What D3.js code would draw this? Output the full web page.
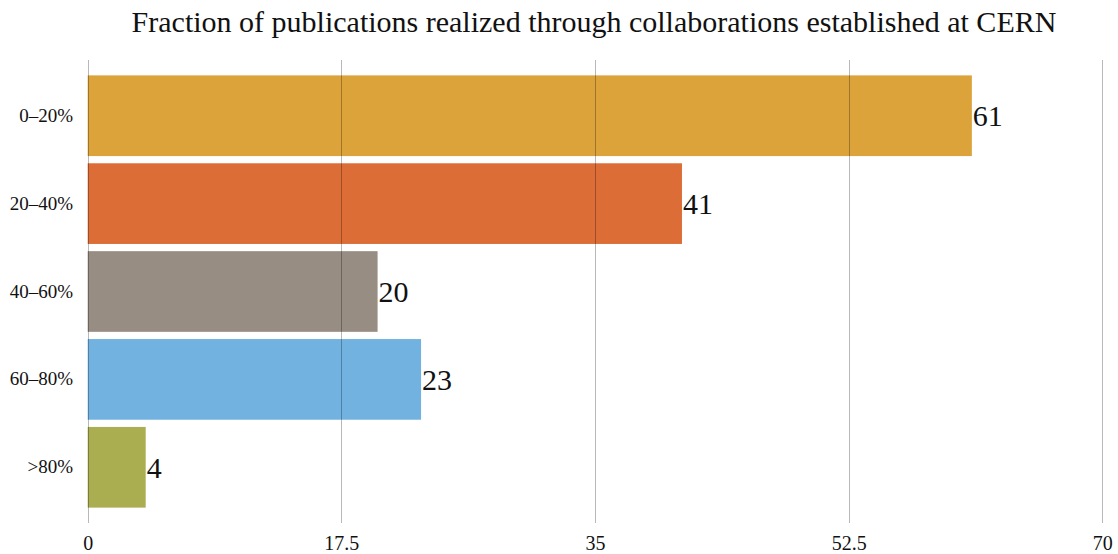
<!DOCTYPE html>
<html><head><meta charset="utf-8">
<script src="https://cdn.jsdelivr.net/npm/d3@7"></script>
<style>body{margin:0;background:#fff}svg{display:block}text{font-family:"Liberation Serif","Times New Roman",serif}</style>
</head><body><svg id="c" width="1118" height="554"></svg>
<script>
const categories = ["0–20%", "20–40%", "40–60%", "60–80%", ">80%"];
const values = [61, 41, 20, 23, 4];
const colors = ["#DBA33A", "#DC6D37", "#978D82", "#72B2E0", "#AAAD50"];
const tickValues = [0, 17.5, 35, 52.5, 70];
const title = "Fraction of publications realized through collaborations established at CERN";

const svg = d3.select("#c");
const m = {left: 88, right: 15, top: 60, bottom: 31};
const W = 1118, H = 554;
const x = d3.scaleLinear().domain([0, 70]).range([m.left - 0.3, W - m.right - 0.7]);
const y = d3.scaleBand().domain(categories).range([m.top, H - m.bottom]).paddingInner(0.082).paddingOuter(0.175);

svg.append("text").attr("x", 594).attr("y", 32).attr("text-anchor", "middle")
  .attr("font-size", 30).attr("fill", "#111").text(title);

svg.append("g").selectAll("rect").data(values).join("rect")
  .attr("x", x(0)).attr("y", (d, i) => y(categories[i]))
  .attr("width", d => x(d) - x(0)).attr("height", y.bandwidth())
  .attr("fill", (d, i) => colors[i]);

const grid = svg.append("g");
grid.selectAll("line").data(tickValues).join("line")
  .attr("x1", d => Math.round(x(d)) + 0.5).attr("x2", d => Math.round(x(d)) + 0.5)
  .attr("y1", m.top).attr("y2", H - m.bottom)
  .attr("stroke", "#000").attr("stroke-opacity", 0.28).attr("stroke-width", 1);

const xAxis = d3.axisBottom(x).tickValues(tickValues).tickSize(0).tickFormat(d => String(d));
const gx = svg.append("g").attr("transform", `translate(0,${H - m.bottom})`).call(xAxis);
gx.select(".domain").remove();
gx.selectAll("text").attr("font-family", '"Liberation Serif", serif').attr("font-size", 20).attr("fill", "#111").attr("dy", null).attr("y", 27);

const yAxis = d3.axisLeft(y).tickSize(0).tickPadding(15);
const gy = svg.append("g").attr("transform", `translate(${m.left},0)`).call(yAxis);
gy.select(".domain").remove();
gy.selectAll("text").attr("font-family", '"Liberation Serif", serif').attr("font-size", 19).attr("fill", "#111");

svg.append("g").selectAll("text").data(values).join("text")
  .attr("x", d => x(d) + 1).attr("y", (d, i) => y(categories[i]) + y.bandwidth() / 2)
  .attr("dy", "0.35em").attr("font-size", 30).attr("fill", "#111").text(d => d);
</script></body></html>
